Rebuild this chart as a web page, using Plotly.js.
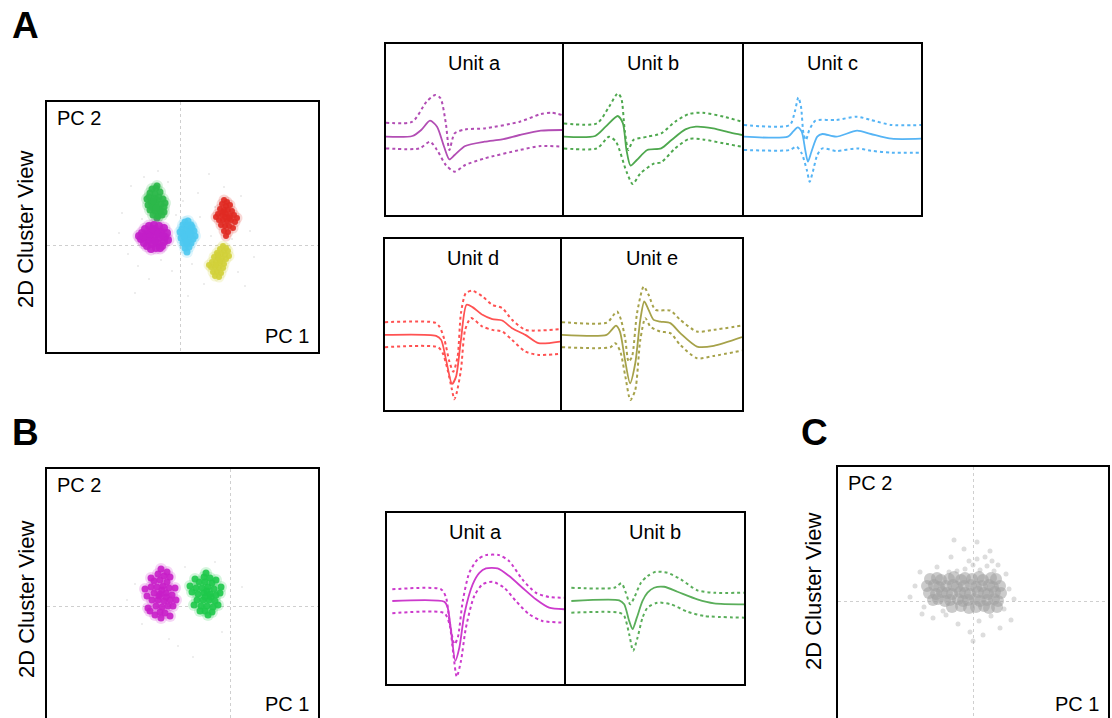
<!DOCTYPE html>
<html><head><meta charset="utf-8">
<script src="https://cdn.plot.ly/plotly-3.0.1.min.js"></script>
<style>html,body{margin:0;padding:0;overflow:hidden;background:#fff}#chart{width:1112px;height:730px}</style>
</head><body><div id="chart"></div>
<script>
// ---------- Panel A cluster points (PC1, PC2) ----------
const aGreenX = [-2.8,-2.4,-3.0,-2.5,-2.0,-3.1,-2.6,-2.1,-1.7,-2.9,-2.4,-1.9,-3.2,-2.7,-2.2,-1.6,-3.0,-2.5,-2.0,-1.6,-2.7,-2.2,-1.8,-2.8,-2.3,-2.7,-2.0,-2.4,-3.3,-1.5,-2.3,-2.3];
const aGreenY = [5.6,5.7,5.2,5.1,5.3,4.8,4.7,4.8,4.6,4.3,4.2,4.1,4.0,3.9,3.7,3.8,3.5,3.4,3.3,3.3,3.0,2.9,3.0,3.8,4.5,4.4,3.5,3.7,4.6,4.2,5.9,2.7];
const aMagX = [-3.8,-3.5,-3.1,-2.6,-2.1,-1.6,-1.3,-3.9,-3.4,-2.9,-2.4,-1.9,-1.5,-3.6,-3.1,-2.6,-2.1,-1.6,-3.3,-2.8,-2.3,-1.8,-2.9,-2.4,-3.2,-2.7,-2.2,-1.7,-3.7,-2.0,-3.0,-2.5,-1.2,-4.1];
const aMagY = [1.2,1.6,1.9,2.0,1.9,1.7,1.2,0.6,0.9,1.3,1.4,1.3,0.8,0.2,0.5,0.8,0.7,0.3,-0.1,0.1,0.2,-0.1,-0.4,-0.3,1.1,1.6,1.1,0.9,0.8,-0.3,0.8,0.4,0.5,0.9];
const aCyanX = [0.5,0.8,0.3,0.7,1.1,0.2,0.6,1.0,1.4,0.3,0.7,1.1,1.5,0.1,0.5,0.9,1.3,0.3,0.7,1.1,0.5,0.9,0.7,0.4,0.9,0.6,1.2,0.0];
const aCyanY = [2.3,2.4,2.0,1.9,2.0,1.6,1.5,1.6,1.4,1.1,1.0,1.1,0.9,0.7,0.6,0.5,0.6,0.2,0.1,0.2,-0.3,-0.2,-0.7,0.9,1.3,0.3,1.8,1.3];
const aRedX = [4.4,4.7,4.2,4.6,5.0,4.0,4.4,4.8,5.2,3.8,4.2,4.6,5.0,5.4,3.9,4.3,4.7,5.1,5.5,4.1,4.5,4.9,5.3,4.4,4.8,4.6,4.5,4.9,3.6,5.7,4.3];
const aRedY = [4.5,4.3,4.1,3.9,4.0,3.6,3.5,3.5,3.4,3.1,3.0,3.1,2.9,3.0,2.5,2.5,2.4,2.5,2.3,2.0,1.9,1.9,1.7,1.4,1.3,0.9,2.8,2.7,2.8,2.7,3.3];
const aYelX = [4.3,4.6,4.0,4.4,4.8,3.7,4.1,4.5,3.4,3.8,4.2,4.6,3.2,3.6,4.0,4.4,3.1,3.5,3.9,4.3,3.3,3.7,4.1,3.5,3.9,3.8,4.0,3.6,4.9,2.9];
const aYelY = [-0.1,-0.3,-0.4,-0.6,-0.6,-0.8,-0.9,-1.0,-1.2,-1.3,-1.4,-1.4,-1.7,-1.7,-1.8,-1.9,-2.2,-2.2,-2.3,-2.3,-2.7,-2.7,-2.8,-3.1,-3.2,-1.0,-1.6,-2.0,-1.1,-2.0];
const aNoiseX = [-5.8,-4.9,-4.2,-3.6,-1.2,0.3,1.8,2.9,3.5,6.1,7.0,-5.2,-0.8,2.4,5.8,-4.5,-1.9,1.2,6.5,-3.1,0.8,3.1,5.2,-2.2,-6.1,2.0,7.4,-0.4,4.4,-3.8];
const aNoiseY = [3.2,5.9,-2.1,6.8,6.3,4.4,5.2,7.1,3.8,4.9,1.4,-0.9,-2.6,-3.9,-2.7,-4.8,-1.5,-1.9,-4.1,-3.4,-5.1,0.9,0.6,7.4,1.2,2.8,-1.2,3.0,5.8,2.6];

// ---------- Panel B cluster points ----------
const bMagX = [-7.2,-6.6,-7.6,-7.0,-6.3,-7.9,-7.3,-6.7,-6.1,-7.6,-7.0,-6.4,-5.8,-7.8,-7.2,-6.6,-6.0,-7.4,-6.8,-6.2,-7.0,-6.5,-6.9,-8.3,-5.5,-6.8,-7.1,-6.4,-6.9,-8.0,-6.0,-7.9,-6.0,-8.2,-5.7,-5.4,-8.5,-7.5,-6.3];
const bMagY = [3.2,3.0,2.5,2.6,2.4,1.9,1.9,2.0,1.8,1.3,1.2,1.3,1.1,0.6,0.6,0.5,0.6,0.0,-0.1,0.0,-0.6,-0.7,-1.2,1.0,1.8,1.6,1.0,0.9,3.7,-0.5,-1.0,2.8,2.9,-0.2,0.0,0.6,1.7,-0.9,3.4];
const bGreenX = [-2.6,-2.0,-3.1,-2.5,-1.8,-3.4,-2.8,-2.2,-1.6,-3.2,-2.6,-2.0,-1.4,-3.3,-2.7,-2.1,-1.5,-2.9,-2.3,-1.7,-2.5,-2.3,-2.5,-1.9,-3.8,-1.0,-2.2,-2.4,-3.5,-1.4,-3.6,-1.2,-0.9,-4.0,-3.0,-1.8];
const bGreenY = [2.9,2.8,2.4,2.4,2.3,1.8,1.8,1.9,1.7,1.2,1.3,1.2,1.1,0.6,0.6,0.6,0.5,0.0,0.0,-0.1,-0.5,1.5,0.9,0.9,1.4,1.3,-0.9,3.3,2.7,2.6,0.1,0.1,1.9,2.0,-0.5,-0.6];
const bNoiseX = [-9.5,-8.8,-4.5,-0.8,-5.2,-3.7,-10.3,-1.5,1.2,-6.1];
const bNoiseY = [2.2,-1.8,3.9,-2.6,-4.0,-5.1,0.6,4.4,1.9,-3.3];

// ---------- Panel C unsorted points ----------
const cCoreX = [-4.3,-3.6,-3.2,-2.4,-1.9,-1.2,-0.8,-0.1,0.6,1.0,1.8,2.3,
            -4.6,-3.9,-3.4,-2.7,-2.0,-1.6,-0.9,-0.2,0.3,0.9,1.6,2.0,2.7,
            -4.4,-3.7,-3.1,-2.6,-2.1,-1.3,-0.8,-0.3,0.5,1.1,1.5,2.2,2.8,
            -4.0,-3.5,-2.8,-2.3,-1.5,-1.0,-0.5,0.2,0.7,1.4,2.1,2.5,
            -2.1,-1.2,-0.4,0.3,1.1,1.6,2.4];
const cCoreY = [2.2,2.3,2.1,2.2,2.4,2.1,2.3,2.2,2.4,2.1,2.3,2.2,
            1.5,1.6,1.4,1.5,1.6,1.4,1.5,1.6,1.4,1.5,1.6,1.4,1.5,
            0.8,0.7,0.9,0.8,0.7,0.9,0.8,0.7,0.9,0.8,0.7,0.9,0.8,
            0.1,0.2,0.0,0.1,0.2,0.0,0.1,0.2,0.0,0.1,0.2,0.0,
            -0.6,-0.5,-0.7,-0.6,-0.5,-0.7,-0.6];
const cHaloX = [-0.8,0.0,0.7,1.4,2.1,0.4,1.2,-0.4,1.9,2.5,-1.6,-2.4,
            -5.8,-5.3,-4.9,-3.6,-2.7,-1.5,-0.3,0.6,1.8,3.1,3.6,3.3,-0.9,0.4,1.7,-2.2,4.1,2.7,-4.0,0.0,-6.3,-1.9,-3.0,3.8,-5.1,1.0];
const cHaloY = [3.2,3.6,3.1,3.5,3.0,4.2,4.4,4.0,4.0,3.6,3.0,2.9,
            1.5,2.9,-0.6,3.4,-1.4,-2.3,-3.1,-2.0,-1.5,-0.8,1.2,2.7,5.2,5.9,5.0,4.4,0.2,-2.7,-1.7,-4.0,0.4,6.1,-1.0,-1.9,-1.3,-3.4];

// ---------- Waveforms, panel A ----------
const uaMeanX = [0,15,20,25,29,33,36,39,45,56,66,76,88,100];
const uaMean  = [0,0.7,6.7,16,10,-10,-22.7,-18.3,-9.3,-5,-2.7,1.7,6,6.7];
const uaUpX   = [0,15,23,28,31,34,36,39,45,56,76,88,94,100];
const uaUp    = [14,15,35,41.7,38.3,13.3,-13.3,3.3,7.3,8.3,15,22.7,24,21.7];
const uaLoX   = [0,19,25,29,34,39,45,56,76,88,100];
const uaLo    = [-11.7,-11.7,-5,-13.3,-28.3,-35,-28.3,-21.7,-13.3,-9.3,-10];

const ubMeanX = [0,17.5,23.4,30.2,33.1,35.1,37.4,40.9,46.8,54.6,60.4,68.2,74.1,83.8,93.6,100];
const ubMean  = [0,0.7,10,20.7,13.3,-13.3,-29,-23.3,-13.3,-11.7,-3.3,7.3,10,8.3,4,1.7];
const ubUpX   = [0,18.5,25.3,30.2,32.2,34.1,36.1,39,46.8,54.6,62.4,70.2,78,89.7,100];
const ubUp    = [13.3,13.3,30,43.3,38.3,6.7,-13.3,-3.3,0,3.3,15,22.7,24,20,15];
const ubLoX   = [0,18.5,25.3,29.2,35.1,38.6,42.9,50.7,54.6,62.4,70.2,78,89.7,100];
const ubLo    = [-11.7,-11.7,0,-5,-35,-47.3,-36.7,-26.7,-25.7,-11.7,-2.3,-2.7,-6.7,-10];

const ucMeanX = [0,24.8,27.7,30.3,32.6,34.6,36.1,38.1,41.4,44.3,52.1,63.9,71.7,83.4,100];
const ucMean  = [0,0,5,9.3,5,-13.3,-25,-15,0,2.7,0,6,2.7,-2,-2];
const ucUpX   = [0,25.8,28.7,30.7,32.2,33.6,35,36.9,40.4,52.1,63.9,71.7,83.4,100];
const ucUp    = [11.7,11.7,25,39.3,30,3.3,-3.3,6.7,16,16.7,20,16.7,11.7,11.7];
const ucLoX   = [0,25.8,29.7,32.6,35.5,37.1,38.9,41.4,44.3,52.1,63.9,71.7,83.4,100];
const ucLo    = [-13.3,-13.3,-10,-16.7,-33.3,-45,-35,-18.3,-11.7,-14.3,-11.7,-14,-16,-16];

const udMeanX = [0,29.2,32.1,34.9,38.3,40.6,43.4,46.6,50,55.7,61.3,67,72.6,80.2,87.7,100];
const udMean  = [0,-1,-5,-25,-49,-41.7,-5,30,27.7,20,15.7,14.3,6.7,0,-8.3,-6.7];
const udUpX   = [0,28.3,31.1,34,36.8,39,41.5,43.4,46.2,50,55.7,61.3,67,72.6,80.2,87.7,100];
const udUp    = [12.7,12.3,8.3,-5,-26.7,-36.7,-21.7,21.7,41.7,44,38.3,30,26.7,15,5,4.3,5.7];
const udLoX   = [0,30.2,33,35.8,38.3,39.6,40.9,43.4,45.8,49.1,55.7,61.3,67,72.6,80.2,87.7,100];
const udLo    = [-12.3,-12.3,-18.3,-35,-55,-64.3,-58.3,-35,5,16.7,8.3,5,3.3,-5,-16.7,-20,-19];

const ueMeanX = [0,24.8,27.6,30,32.2,35,37.8,40.7,43.5,45.7,48.1,50.9,54.6,60.2,65.7,75,84.3,100];
const ueMean  = [0,0,5,9.3,3.3,-25,-48.3,-28.3,15,33.3,25,15,13.3,11.7,1.7,-11.7,-11,-2.3];
const ueUpX   = [0,25,28.7,30.6,32.8,35.2,37,38.9,41.7,45.4,48.1,51.9,60.2,65.7,75,84.3,100];
const ueUp    = [12.7,12.3,20,23.3,15,-5,-26.7,-21.7,21.7,48.3,40,25,24.3,15,3.3,5,9.3];
const ueLoX   = [0,26.9,29.6,32.4,35.2,38,40.7,43.5,46.3,49.1,54.6,60.2,65.7,75,84.3,100];
const ueLo    = [-12.3,-12.3,-8.3,-16.7,-41.7,-65,-55,-5,16.7,8.3,3.3,1.7,-10,-23.3,-21,-15.7];

// ---------- Waveforms, panel B ----------
const baMeanX = [3,32.4,34.3,36.2,38.6,40.9,43.7,48.4,52.2,55.9,62.5,69,76.5,84.1,91.6,100];
const baMean  = [0,-0.7,-6.7,-30,-60,-46.7,-13.3,16.7,28.3,32.7,32.7,25,13.3,1.7,-6.7,-8.3];
const baUpX   = [3,30.6,33.4,35.3,38.1,40,42.8,46.5,51.2,55.9,63.4,69,76.5,84,91.6,100];
const baUp    = [11.7,11.7,3.3,-20,-43.3,-36.7,0,28.3,41.7,46,46,40,21.7,8.3,4,3.3];
const baLoX   = [3,32.4,35.3,37.5,39.4,41.8,44.6,49.3,54,59.7,66.2,72.8,80.3,87.8,100];
const baLo    = [-12.3,-12.3,-23.3,-53.3,-76,-60,-26.7,5,16.7,19.3,13.3,0,-13.3,-20,-21.7];

const bbMeanX = [3,29.9,32.7,35.5,37.4,39.8,43,45.8,49.5,55.1,62.6,73.8,83.2,100];
const bbMean  = [0,0.7,-3.3,-20,-28.3,-16.7,0,8.3,13.3,14.3,9.3,1.7,-2.3,-3.3];
const bbUpX   = [3,27.1,31.2,33.6,36.1,38.3,42.1,45.8,50.5,57,64.5,73.8,83.2,100];
const bbUp    = [13.3,13.3,17.7,8.3,-3.3,3.3,18.3,25,29.3,28.3,21.7,10.7,8.3,8.3];
const bbLoX   = [3,29.9,32.7,35.5,37.7,40.2,43,45.8,51.4,58.9,68.2,77.6,100];
const bbLo    = [-11.7,-11.7,-15,-33.3,-50,-36.7,-16.7,-6.7,-1.7,-3.3,-10.7,-15,-16.7];

const unitLabelsA = ['Unit a','Unit b','Unit c','Unit d','Unit e'];
const unitLabelsB = ['Unit a','Unit b'];

// ---------- Build figure ----------
const W = 1112, H = 730;
const FONT = 'Liberation Sans, Arial, sans-serif';
const fx = p => p / W;
const fy = p => 1 - p / H;
const traces = [];
const layout = {
  width: W, height: H, margin: {l:0, r:0, t:0, b:0},
  paper_bgcolor: '#fff', plot_bgcolor: '#fff', showlegend: false,
  font: {family: FONT, color: '#000'},
  annotations: []
};

function ax(i){ return i === 1 ? '' : String(i); }

function scatterAxes(i, xd, yd, xr, yr){
  const common = {showline:true, mirror:true, linecolor:'#000', linewidth:2, zeroline:false,
    showticklabels:false, ticks:'', tickvals:[0], showgrid:true, griddash:'dot', gridcolor:'#cfcfcf', gridwidth:1, fixedrange:true};
  layout['xaxis'+ax(i)] = Object.assign({}, common, {domain:[fx(xd[0]), fx(xd[1])], range:xr, anchor:'y'+ax(i)});
  layout['yaxis'+ax(i)] = Object.assign({}, common, {domain:[fy(yd[1]), fy(yd[0])], range:yr, anchor:'x'+ax(i)});
  layout.annotations.push({xref:'x'+ax(i)+' domain', yref:'y'+ax(i)+' domain', x:0.03, y:1-16/(yd[1]-yd[0]), xanchor:'left', yanchor:'middle', text:'PC 2', showarrow:false, font:{size:20, family:FONT}});
  layout.annotations.push({xref:'x'+ax(i)+' domain', yref:'y'+ax(i)+' domain', x:0.975, y:16/(yd[1]-yd[0]), xanchor:'right', yanchor:'middle', text:'PC 1', showarrow:false, font:{size:20, family:FONT}});
}
function waveAxes(i, xd, yd, yr, label){
  const common = {showline:true, mirror:true, linecolor:'#000', linewidth:2, zeroline:false,
    showticklabels:false, ticks:'', showgrid:false, fixedrange:true};
  layout['xaxis'+ax(i)] = Object.assign({}, common, {domain:[fx(xd[0]), fx(xd[1])], range:[0,100], anchor:'y'+ax(i)});
  layout['yaxis'+ax(i)] = Object.assign({}, common, {domain:[fy(yd[1]), fy(yd[0])], range:yr, anchor:'x'+ax(i)});
  layout.annotations.push({xref:'x'+ax(i)+' domain', yref:'y'+ax(i)+' domain', x:0.5, y:1-19/(yd[1]-yd[0]), xanchor:'center', yanchor:'middle', text:label, showarrow:false, font:{size:20, family:FONT}});
}
function pts(i, x, y, color, size, op){
  traces.push({type:'scatter', mode:'markers', x:x, y:y, xaxis:'x'+ax(i), yaxis:'y'+ax(i), hoverinfo:'skip',
    marker:{color:color, size:size, opacity:op, line:{width:0}}});
}
function cluster(i, x, y, color, size){
  pts(i, x, y, color, size + 5, 0.18);
  pts(i, x, y, color, size, 0.9);
}
function wave(i, x, y, color, dash, width){
  traces.push({type:'scatter', mode:'lines', x:x, y:y, xaxis:'x'+ax(i), yaxis:'y'+ax(i), hoverinfo:'skip',
    line:{color:color, width:width, dash:dash, shape:'spline', smoothing:0.7}});
}
function unit(i, mx, m, ux, u, lx, l, color){
  wave(i, ux, u, color, 'dot', 2);
  wave(i, lx, l, color, 'dot', 2);
  wave(i, mx, m, color, 'solid', 1.8);
}

// Panel A scatter
scatterAxes(1, [47,318], [102,352], [-13.3,13.8], [-10.7,14.3]);
pts(1, aNoiseX, aNoiseY, '#e2e2e2', 2, 0.8);
cluster(1, aGreenX, aGreenY, '#2cb84a', 7);
cluster(1, aMagX, aMagY, '#c21ec8', 8);
cluster(1, aCyanX, aCyanY, '#4cc8f0', 7);
cluster(1, aRedX, aRedY, '#e02a22', 6);
cluster(1, aYelX, aYelY, '#d2d03a', 6);

// Panel A waveforms (adjacent panels offset 2 px so the shared borders coincide)
const rowY1 = [44,215], rowY2 = [239,410];
const yr1 = [-78.3, 92.7], yr2 = [-75, 95.7];
waveAxes(2, [386,562], rowY1, yr1, unitLabelsA[0]);
waveAxes(3, [564,742], rowY1, yr1, unitLabelsA[1]);
waveAxes(4, [744,921], rowY1, yr1, unitLabelsA[2]);
waveAxes(5, [385,560], rowY2, yr2, unitLabelsA[3]);
waveAxes(6, [562,742], rowY2, yr2, unitLabelsA[4]);
unit(2, uaMeanX, uaMean, uaUpX, uaUp, uaLoX, uaLo, '#b24db4');
unit(3, ubMeanX, ubMean, ubUpX, ubUp, ubLoX, ubLo, '#4ea84e');
unit(4, ucMeanX, ucMean, ucUpX, ucUp, ucLoX, ucLo, '#55b4f5');
unit(5, udMeanX, udMean, udUpX, udUp, udLoX, udLo, '#ff5252');
unit(6, ueMeanX, ueMean, ueUpX, ueUp, ueLoX, ueLo, '#a6a24a');

// Panel B scatter
scatterAxes(7, [47,318], [469,720], [-18.3,8.8], [-11.4,13.7]);
pts(7, bNoiseX, bNoiseY, '#e4e4e4', 2, 0.8);
cluster(7, bMagX, bMagY, '#c81ec8', 7);
cluster(7, bGreenX, bGreenY, '#1ec84a', 7);

// Panel B waveforms
const rowYB = [513,684], yrB = [-83.3, 88.3];
waveAxes(8, [387,564], rowYB, yrB, unitLabelsB[0]);
waveAxes(9, [566,744], rowYB, yrB, unitLabelsB[1]);
unit(8, baMeanX, baMean, baUpX, baUp, baLoX, baLo, '#cc3acc');
unit(9, bbMeanX, bbMean, bbUpX, bbUp, bbLoX, bbLo, '#5aae5a');

// Panel C scatter
scatterAxes(10, [838,1108], [467,720], [-13.5,13.5], [-11.9,13.4]);
pts(10, cHaloX, cHaloY, '#b4b4b4', 5, 0.45);
pts(10, cCoreX, cCoreY, '#a0a0a0', 12, 0.55);

// Side titles and panel letters
[[26,230],[26,600],[813,592]].forEach(p => layout.annotations.push({xref:'paper', yref:'paper', x:fx(p[0]), y:fy(p[1]), xanchor:'center', yanchor:'middle', textangle:-90, text:'2D Cluster View', showarrow:false, font:{size:22, family:FONT}}));
[['A',10,25],['B',10,433],['C',799,433]].forEach(p => layout.annotations.push({xref:'paper', yref:'paper', x:fx(p[1]), y:fy(p[2]), xanchor:'left', yanchor:'middle', text:'<b>'+p[0]+'</b>', showarrow:false, font:{size:37, family:FONT}}));

Plotly.newPlot('chart', traces, layout, {staticPlot:true, displayModeBar:false});
</script></body></html>
